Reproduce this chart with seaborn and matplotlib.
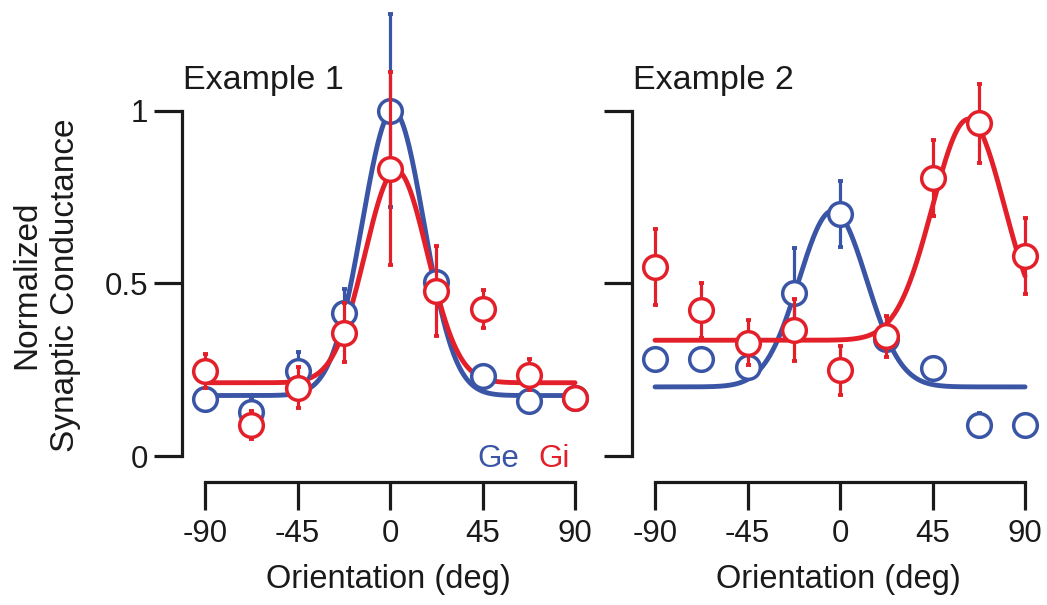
import numpy as np
import pandas as pd
import matplotlib
matplotlib.use("Agg")
import matplotlib.pyplot as plt
import seaborn as sns

# ---------------- data ----------------
orientations = [-90, -67.5, -45, -22.5, 0, 22.5, 45, 67.5, 90]
xticks = [-90, -45, 0, 45, 90]
xtick_labels = ["-90", "-45", "0", "45", "90"]
yticks = [0, 0.5, 1]
ytick_labels = ["0", "0.5", "1"]

# Example 1
ex1_ge = [0.166, 0.127, 0.246, 0.413, 1.0, 0.505, 0.232, 0.16, 0.169]
ex1_ge_err = [0.02, 0.04, 0.055, 0.07, 0.28, 0.03, 0.02, 0.02, 0.02]
ex1_gi = [0.246, 0.09, 0.198, 0.357, 0.832, 0.478, 0.425, 0.235, 0.169]
ex1_gi_err = [0.05, 0.04, 0.06, 0.085, 0.28, 0.13, 0.055, 0.045, 0.02]
# Gaussian fit parameters: baseline, amplitude, center, width
ex1_ge_fit = [0.175, 0.825, 1.5, 15.0]
ex1_gi_fit = [0.212, 0.615, 3.0, 15.2]

# Example 2
ex2_ge = [0.28, 0.28, 0.259, 0.473, 0.70, 0.34, 0.256, 0.09, 0.09]
ex2_ge_err = [0.02, 0.03, 0.02, 0.13, 0.096, 0.02, 0.02, 0.035, 0.03]
ex2_gi = [0.546, 0.422, 0.328, 0.364, 0.248, 0.346, 0.805, 0.963, 0.578]
ex2_gi_err = [0.11, 0.08, 0.065, 0.09, 0.07, 0.06, 0.11, 0.115, 0.11]
ex2_ge_fit = [0.20, 0.51, -3.5, 16.5]
ex2_gi_fit = [0.335, 0.64, 62.5, 17.5]

titles = ["Example 1", "Example 2"]
xlabel = "Orientation (deg)"
ylabel = "Normalized\nSynaptic Conductance"
legend_labels = ["Ge", "Gi"]

BLUE = "#3A55A5"
RED = "#E3202A"
INK = "#1a1a1a"

# ---------------- style ----------------
sns.set_style("white")
plt.rcParams["font.family"] = ["Liberation Sans", "DejaVu Sans"]

W, H = 1047, 605
fig = plt.figure(figsize=(W / 100, H / 100), dpi=100)

# pixel geometry
x_scale = 370 / 180.0           # px per degree
y0_px, y_scale = 456.0, 345.5   # px of y=0, px per unit
xlim = (-101.2, 100.0)
ylim = (-0.08, 1.32)
ax_w = (xlim[1] - xlim[0]) * x_scale
ax_bottom_px = y0_px - ylim[0] * y_scale
ax_top_px = y0_px - ylim[1] * y_scale
ax_h = ax_bottom_px - ax_top_px

theta = np.linspace(-90, 90, 721)


def gauss(p):
    b, a, c, s = p
    return b + a * np.exp(-((theta - c) ** 2) / (2 * s ** 2))


panels = [
    (182, ex1_ge, ex1_ge_err, ex1_gi, ex1_gi_err, ex1_ge_fit, ex1_gi_fit),
    (632, ex2_ge, ex2_ge_err, ex2_gi, ex2_gi_err, ex2_ge_fit, ex2_gi_fit),
]

axes = []
for i, (left_px, ge, ge_err, gi, gi_err, ge_fit, gi_fit) in enumerate(panels):
    ax = fig.add_axes([left_px / W, (H - ax_bottom_px) / H, ax_w / W, ax_h / H])
    ax.set_facecolor("none")
    axes.append(ax)

    # fitted curves
    fit_df = pd.DataFrame({"theta": np.concatenate([theta, theta]),
                           "g": np.concatenate([gauss(ge_fit), gauss(gi_fit)]),
                           "kind": ["Ge"] * len(theta) + ["Gi"] * len(theta)})
    sns.lineplot(data=fit_df, x="theta", y="g", hue="kind",
                 palette={"Ge": BLUE, "Gi": RED}, linewidth=3.5,
                 legend=False, ax=ax, zorder=2)

    # data points with error bars
    z = 3
    for vals, errs, col in [(ge, ge_err, BLUE), (gi, gi_err, RED)]:
        ax.errorbar(orientations, vals, yerr=errs, fmt="none", ecolor=col,
                    elinewidth=2.3, capsize=1.8, capthick=2.8, zorder=z,
                    clip_on=False)
        pts = pd.DataFrame({"x": orientations, "y": vals})
        sns.scatterplot(data=pts, x="x", y="y", s=290, marker="o",
                        facecolor="white", edgecolor=col, linewidth=2.5,
                        ax=ax, zorder=z + 1, clip_on=False)
        z += 2

    ax.set_xlim(*xlim)
    ax.set_ylim(*ylim)
    for side in ["top", "right"]:
        ax.spines[side].set_visible(False)
    ax.spines["left"].set_bounds(0, 1)
    ax.spines["bottom"].set_position(("data", -0.075))
    ax.spines["bottom"].set_bounds(-90, 90)
    for side in ["left", "bottom"]:
        ax.spines[side].set_linewidth(2.3)
        ax.spines[side].set_color(INK)

    ax.set_xticks(xticks)
    ax.set_xticklabels(xtick_labels)
    ax.set_yticks(yticks)
    if i == 0:
        ax.set_yticklabels(ytick_labels)
    else:
        ax.set_yticklabels([])
    ax.tick_params(axis="both", which="major", bottom=True, left=True,
                   top=False, right=False, direction="out", length=20.5,
                   width=2.3, color=INK, labelsize=22.5, labelcolor=INK)
    ax.tick_params(axis="x", pad=6)
    ax.tick_params(axis="y", pad=4)
    ax.set_xlabel(xlabel, fontsize=23.5, color=INK, labelpad=11)
    ax.set_ylabel("")

    ax.text(-100.7, 1.061, titles[i], fontsize=24.5, ha="left",
            va="baseline", color=INK)

# Ge / Gi labels in first panel
axes[0].text(42.5, -0.01, legend_labels[0], color=BLUE, fontsize=22.5,
             ha="left", va="center")
axes[0].text(72.3, -0.01, legend_labels[1], color=RED, fontsize=22.5,
             ha="left", va="center")

fig.text(46 / W, 1 - 285 / H, ylabel, rotation=90, ha="center", va="center",
         multialignment="center", fontsize=24, color=INK,
         linespacing=1.3)

fig.savefig("out.png", dpi=100)
